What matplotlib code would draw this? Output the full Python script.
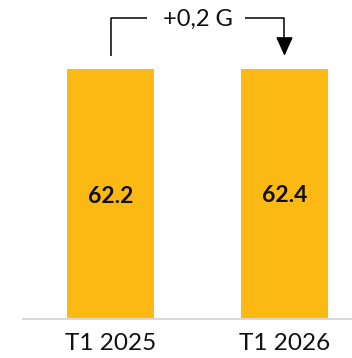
import matplotlib.pyplot as plt

# Data
periods = ["T1 2025", "T1 2026"]
values = [62.2, 62.4]
delta_label = "+0,2 G"

bar_color = "#FDB913"
plt.rcParams["font.family"] = ["Lato", "DejaVu Sans"]

fig = plt.figure(figsize=(3.52, 3.58), dpi=100)
ax = fig.add_axes([23 / 352, 39 / 358, 329 / 352, 319 / 358])

x = list(range(len(periods)))
ax.bar(x, values, width=0.5, color=bar_color, zorder=2)

ax.set_xlim(-0.503, 1.388)
ax.set_ylim(0, 79.5)

# value labels in the middle of bars
for xi, v in zip(x, values):
    ax.text(xi, v / 2 - 0.5, f"{v:.1f}", ha="center", va="center",
            fontsize=16.5, fontweight="bold", color="#111111")

# bracket with arrow
top = 75.0
low = 65.6
ax.plot([x[0], x[0], 0.21], [low, top, top], color="black", lw=1.1,
        solid_capstyle="butt", clip_on=False)
ax.plot([0.773, x[1], x[1]], [top, top, low + 3], color="black", lw=1.1,
        solid_capstyle="butt", clip_on=False)
ax.annotate("", xy=(x[1], low), xytext=(x[1], low + 4),
            arrowprops=dict(arrowstyle="-|>,head_length=1.15,head_width=0.52",
                            color="black", lw=1.1, shrinkA=0, shrinkB=0))
ax.text(0.5, top - 0.4, delta_label, ha="center", va="center", fontsize=17,
        color="#111111")

# axes styling
for s in ["top", "right", "left"]:
    ax.spines[s].set_visible(False)
ax.spines["bottom"].set_color("#d9d9d9")
ax.spines["bottom"].set_linewidth(1.5)
ax.set_yticks([])
ax.set_xticks(x)
ax.set_xticklabels(periods, fontsize=17.5, color="#111111")
ax.tick_params(axis="x", length=0, pad=10)

fig.savefig("out.png", dpi=100)
